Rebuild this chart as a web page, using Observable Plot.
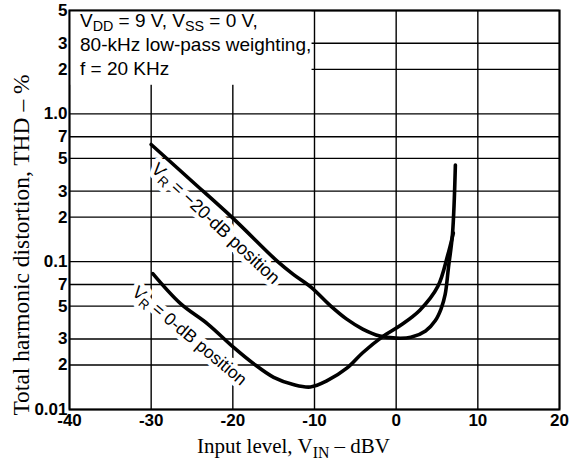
<!DOCTYPE html>
<html>
<head>
<meta charset="utf-8">
<script src="https://cdn.jsdelivr.net/npm/d3@7"></script>
<script src="https://cdn.jsdelivr.net/npm/@observablehq/plot@0.6"></script>
<style>
  html, body { margin: 0; padding: 0; background: white; }
  #chart svg { display: block; }
</style>
</head>
<body>
<div id="chart"></div>
<script>
// ---- data ----
const xTicks = [-40, -30, -20, -10, 0, 10, 20];
const xTickLabels = ["-40", "-30", "-20", "-10", "0", "10", "20"];
const yTicks = [0.01, 0.02, 0.03, 0.05, 0.07, 0.1, 0.2, 0.3, 0.5, 0.7, 1, 2, 3, 5];
const yTickLabels = ["0.01", "2", "3", "5", "7", "0.1", "2", "3", "5", "7", "1.0", "2", "3", "5"];

// V_R = -20-dB position
const m20X = [-30, -25, -20, -14.5, -12.6, -10.4, -8.0, -6.1, -4.1, -2.0, 0.0, 1.8, 3.6, 4.8, 5.5, 6.0, 6.4, 6.9, 7.25];
const m20Y = [0.62, 0.35, 0.197, 0.1, 0.082, 0.067, 0.05, 0.041, 0.035, 0.0314, 0.0304, 0.0308, 0.034, 0.04, 0.048, 0.06, 0.091, 0.155, 0.45];

// V_R = 0-dB position
const z0X = [-29.8, -26.4, -23.1, -19.9, -17.5, -15.0, -12.5, -10.5, -8.5, -6.0, -4.1, -1.7, 0.5, 2.9, 5.1, 6.3, 7.0];
const z0Y = [0.083, 0.052, 0.038, 0.0263, 0.0205, 0.0165, 0.0147, 0.0142, 0.0156, 0.0191, 0.0242, 0.031, 0.037, 0.047, 0.068, 0.11, 0.156];

const curveLabels = ["V_{R} = \u221220-dB position", "V_{R} = 0-dB position"];
const curveLabelX = [-22.1, -25.3];
const curveLabelY = [0.181, 0.0315];
const curveLabelAngle = [43, 40];

const noteLines = ["V_{DD} = 9 V, V_{SS} = 0 V,", "80-kHz low-pass weighting,", "f = 20 KHz"];
const noteBox = {x1: -40, x2: -10.3, y1: 1.56, y2: 5};

const xLabel = "Input level, V_{IN} \u2013 dBV";
const yLabel = "Total harmonic distortion, THD \u2013 %";

// ---- build ----
const m20 = m20X.map((x, i) => ({x, y: m20Y[i]}));
const z0 = z0X.map((x, i) => ({x, y: z0Y[i]}));
const labs = curveLabels.map((t, i) => ({t, x: curveLabelX[i], y: curveLabelY[i], a: curveLabelAngle[i]}));

const sans = "Liberation Sans, Arial, sans-serif";
const serif = "Liberation Serif, Times New Roman, serif";

const plot = Plot.plot({
  width: 579,
  height: 468,
  marginLeft: 69,
  marginRight: 20,
  marginTop: 10,
  marginBottom: 59,
  x: {domain: [-40, 20], axis: null},
  y: {type: "log", domain: [0.01, 5], axis: null},
  style: {background: "white", color: "black", fontFamily: sans},
  marks: [
    Plot.ruleY(yTicks, {y: d => d, stroke: "black", strokeWidth: 1.4}),
    Plot.ruleX(xTicks, {x: d => d, stroke: "black", strokeWidth: 1.4}),
    Plot.rect([noteBox], {x1: "x1", x2: "x2", y1: "y1", y2: "y2", fill: "white"}),
    Plot.text(labs, {
      x: "x", y: "y", text: "t", rotate: d => d.a,
      fontSize: d => d.a > 41 ? 18 : 17.5, fontFamily: sans, fill: "black",
      stroke: "white", strokeWidth: 9, textAnchor: "middle", lineAnchor: "middle"
    }),
    Plot.line(m20, {x: "x", y: "y", curve: "catmull-rom", stroke: "black", strokeWidth: 3.6}),
    Plot.line(z0, {x: "x", y: "y", curve: "catmull-rom", stroke: "black", strokeWidth: 3.6}),
    Plot.text(noteLines, {
      text: d => d, frameAnchor: "top-left",
      fontSize: 19, fontFamily: sans, fill: "black", textAnchor: "start", lineAnchor: "bottom"
    }),
    Plot.frame({stroke: "black", strokeWidth: 2}),
    Plot.text(xTicks, {
      x: d => d, text: (d, i) => xTickLabels[i], frameAnchor: "bottom", dy: 11,
      fontSize: 17, fontWeight: "bold", fontFamily: sans, textAnchor: "middle", lineAnchor: "middle"
    }),
    Plot.text(yTicks, {
      y: d => d, text: (d, i) => yTickLabels[i], frameAnchor: "left", dx: -2,
      fontSize: 17, fontWeight: "bold", fontFamily: sans, textAnchor: "end", lineAnchor: "middle"
    }),
    Plot.text([xLabel], {
      text: d => d, frameAnchor: "bottom", dx: -21, dy: 37,
      fontSize: 21, fontFamily: serif, textAnchor: "middle", lineAnchor: "middle"
    }),
    Plot.text([yLabel], {
      text: d => d, frameAnchor: "left", dx: -48, dy: 35, rotate: -90,
      fontSize: 23.5, fontFamily: serif, textAnchor: "middle", lineAnchor: "middle"
    })
  ]
});
document.getElementById("chart").appendChild(plot);

// note lines: place each line on its own baseline
const noteBaselines = [27, 51, 75];
[...plot.querySelectorAll("text")].forEach(t => {
  const i = noteLines.indexOf(t.textContent);
  if (i < 0) return;
  t.setAttribute("transform", `translate(80,${noteBaselines[i]})`);
  t.removeAttribute("dy");
  t.removeAttribute("y");
  t.removeAttribute("x");
  if (t.parentNode && t.parentNode.getAttribute("transform")) t.parentNode.removeAttribute("transform");
});

// subscripts
const ns = "http://www.w3.org/2000/svg";
plot.querySelectorAll("text").forEach(t => {
  const s = t.textContent;
  if (!s.includes("_{")) return;
  const fs = parseFloat(getComputedStyle(t).fontSize) || 16;
  const shift = fs * 0.22;
  while (t.firstChild) t.removeChild(t.firstChild);
  const parts = s.split(/_\{([^}]*)\}/);
  parts.forEach((p, i) => {
    const ts = document.createElementNS(ns, "tspan");
    ts.textContent = p;
    if (i % 2 === 1) {
      ts.setAttribute("font-size", (fs * 0.75).toFixed(1));
      ts.setAttribute("dy", shift.toFixed(1));
    } else if (i > 0) {
      ts.setAttribute("dy", (-shift).toFixed(1));
    }
    t.appendChild(ts);
  });
});
</script>
</body>
</html>
